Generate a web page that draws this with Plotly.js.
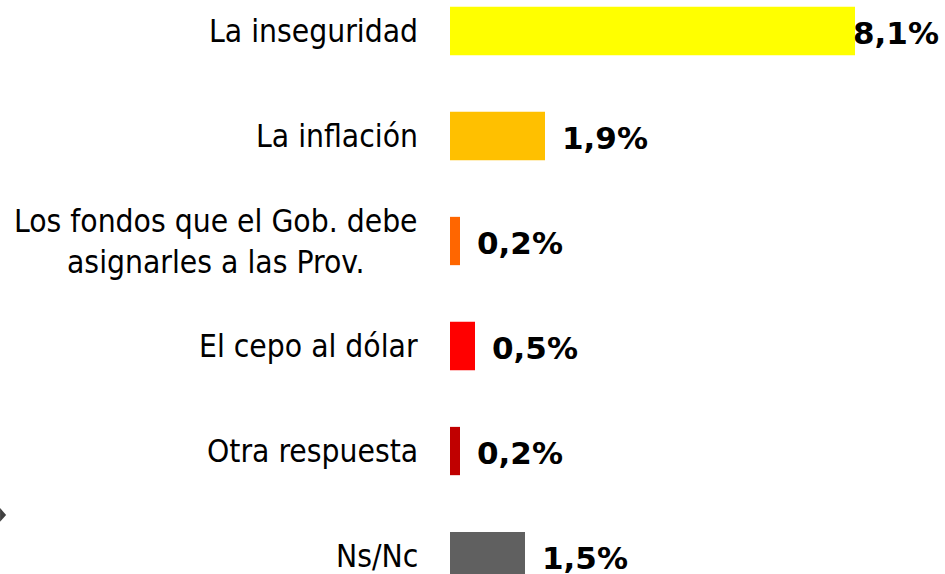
<!DOCTYPE html>
<html>
<head>
<meta charset="utf-8">
<script src="https://cdn.plot.ly/plotly-3.0.1.min.js"></script>
<style>html,body{margin:0;padding:0;background:#fff;}#chart{width:945px;height:574px;}</style>
</head>
<body>
<div id="chart"></div>
<script>
const categories = [
  "La inseguridad",
  "La inflación",
  "Los fondos que el Gob. debe<br>asignarles a las Prov.",
  "El cepo al dólar",
  "Otra respuesta",
  "Ns/Nc"
];
const values = [8.1, 1.9, 0.2, 0.5, 0.2, 1.5];
const valueLabels = ["8,1%", "1,9%", "0,2%", "0,5%", "0,2%", "1,5%"];
const colors = ["#FFFF00", "#FFC000", "#FF6600", "#FF0000", "#C00000", "#606060"];

const labelFont = {family: "'DejaVu Sans Condensed', 'DejaVu Sans', sans-serif", size: 31.5, color: "#000"};
const valueFont = {family: "'DejaVu Sans', sans-serif", size: 31, color: "#000", weight: "bold"};

const maxV = Math.max(...values);
const annotations = [];
categories.forEach((c, i) => {
  annotations.push({
    xref: "paper", yref: "y", x: 0, y: c, xanchor: "right", yanchor: "middle",
    xshift: -30, text: c, showarrow: false, align: "center", font: labelFont
  });
  annotations.push({
    xref: "x", yref: "y", x: values[i], y: c, xanchor: "left", yanchor: "middle",
    xshift: values[i] === maxV ? -4 : 15, yshift: -2,
    text: "<b>" + valueLabels[i] + "</b>", showarrow: false, font: valueFont
  });
});

const trace = {
  type: "bar", orientation: "h",
  x: values, y: categories,
  marker: {color: colors, line: {width: 0}},
  width: 0.46,
  hoverinfo: "none"
};

const layout = {
  width: 945, height: 574,
  margin: {l: 450, r: 90, t: 0, b: 0, pad: 0},
  paper_bgcolor: "#fff", plot_bgcolor: "#fff",
  showlegend: false,
  xaxis: {range: [0, 8.1], visible: false, fixedrange: true},
  yaxis: {type: "category", categoryorder: "array", categoryarray: categories,
          range: [5.171, -0.295], showticklabels: false, showgrid: false,
          zeroline: false, showline: false, ticks: "", fixedrange: true},
  annotations: annotations,
  shapes: [{
    type: "path", xref: "paper", yref: "paper",
    path: "M -1.111 0.115 L -1.096 0.103 L -1.111 0.091 Z",
    fillcolor: "#404040", line: {width: 0}
  }]
};

Plotly.newPlot("chart", [trace], layout, {staticPlot: true, displayModeBar: false});
</script>
</body>
</html>
